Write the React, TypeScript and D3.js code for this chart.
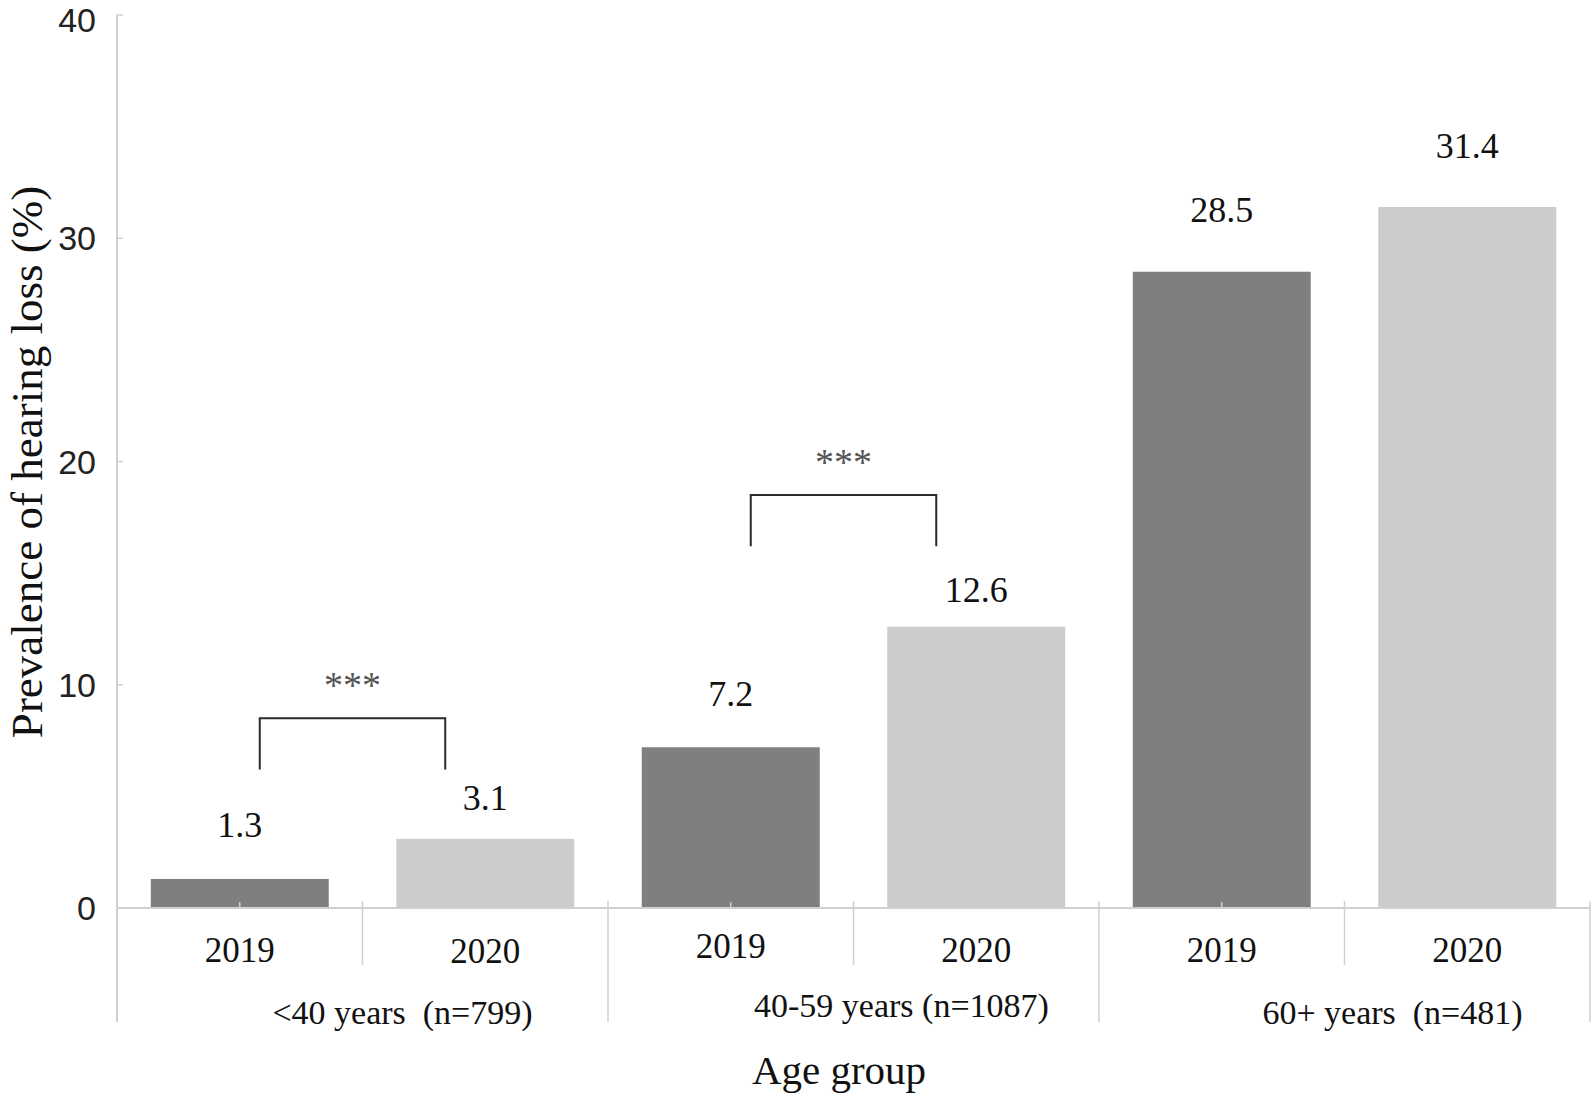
import React from "react";
import * as d3 from "d3";

const groups = ["<40 years  (n=799)", "40-59 years (n=1087)", "60+ years  (n=481)"];
const years = ["2019", "2020"];
const values2019 = [1.3, 7.2, 28.5];
const values2020 = [3.1, 12.6, 31.4];
const yTicks = [0, 10, 20, 30, 40];
// significance brackets: group index, top value, leg bottom value
const sigGroups = [0, 1];
const sigTop = [8.5, 18.5];
const sigBottom = [6.2, 16.2];

// label layout tweaks (pixels)
const labelGap = [42, 29, 41, 25, 50, 49];
const groupLabelShift = [40, 48, 48];
const groupLabelDy = [0, -7, 0];
const yearLabelDy = [0, 1, -4, 0, 0, 0];

const W = 1593;
const H = 1096;
const left = 117;
const right = 1590;
const y0 = 908;
const yTop = 15;

export default function App() {
  const cats: { key: string; group: number; year: number; value: number }[] = [];
  groups.forEach((g, gi) => {
    years.forEach((yr, yi) => {
      cats.push({ key: `${gi}-${yi}`, group: gi, year: yi, value: yi === 0 ? values2019[gi] : values2020[gi] });
    });
  });

  const x = d3
    .scaleBand<string>()
    .domain(cats.map((c) => c.key))
    .range([left, right])
    .paddingInner(0.275)
    .paddingOuter(0.1375);
  const step = x.step();
  const slotStart = (k: string) => (x(k) as number) - step * 0.1375;
  const center = (k: string) => (x(k) as number) + x.bandwidth() / 2;

  const gx = d3.scaleBand<number>().domain(groups.map((_, i) => i)).range([left, right]);

  const y = d3.scaleLinear().domain([0, 40]).range([y0, yTop]);

  const axisColor = "#d0d0d0";
  const serif = "'Liberation Serif', 'Times New Roman', serif";

  return (
    <svg width={W} height={H} style={{ position: "absolute", left: 0, top: 0, background: "#fff" }}>
      {/* bars */}
      {cats.map((c) => (
        <rect
          key={c.key}
          x={x(c.key)}
          y={y(c.value)}
          width={x.bandwidth()}
          height={y0 - y(c.value)}
          fill={c.year === 0 ? "#7f7f7f" : "#cccccc"}
        />
      ))}
      {/* small ticks at category centers */}
      {cats.map((c) => (
        <line key={"ct" + c.key} x1={center(c.key)} x2={center(c.key)} y1={y0} y2={y0 - 6} stroke={axisColor} strokeWidth={1.5} />
      ))}
      {/* y axis */}
      <line x1={left} x2={left} y1={y(40)} y2={1022} stroke={axisColor} strokeWidth={2} />
      {yTicks.map((t) => (
        <g key={"yt" + t}>
          <line x1={left} x2={left + 6} y1={y(t)} y2={y(t)} stroke={axisColor} strokeWidth={1.5} />
          <text
            x={96}
            y={Math.max(y(t), 20)}
            textAnchor="end"
            dominantBaseline="central"
            fontFamily="'Liberation Sans', Arial, sans-serif"
            fontSize={34}
            fill="#222"
          >
            {t}
          </text>
        </g>
      ))}
      {/* x axis */}
      <line x1={left} x2={right} y1={y0} y2={y0} stroke={axisColor} strokeWidth={2} />
      {groups.map((g, gi) => (
        <line
          key={"gs" + gi}
          x1={(gx(gi) as number) + gx.bandwidth()}
          x2={(gx(gi) as number) + gx.bandwidth()}
          y1={y0 - 7}
          y2={1022}
          stroke={axisColor}
          strokeWidth={1.5}
        />
      ))}
      {groups.map((g, gi) => {
        const k = `${gi}-1`;
        const sx = slotStart(k);
        return <line key={"ys" + gi} x1={sx} x2={sx} y1={y0 - 7} y2={965} stroke={axisColor} strokeWidth={1.5} />;
      })}
      {/* year labels */}
      {cats.map((c, i) => (
        <text key={"yl" + c.key} x={center(c.key)} y={962 + yearLabelDy[i]} textAnchor="middle" fontFamily={serif} fontSize={35} fill="#111">
          {years[c.year]}
        </text>
      ))}
      {/* group labels */}
      {groups.map((g, gi) => (
        <text
          key={"gl" + gi}
          x={(gx(gi) as number) + gx.bandwidth() / 2 + groupLabelShift[gi]}
          y={1024 + groupLabelDy[gi]}
          textAnchor="middle"
          fontFamily={serif}
          fontSize={34}
          fill="#111"
          style={{ whiteSpace: "pre" }}
        >
          {g}
        </text>
      ))}
      {/* value labels */}
      {cats.map((c, i) => (
        <text
          key={"vl" + c.key}
          x={center(c.key)}
          y={y(c.value) - labelGap[i]}
          textAnchor="middle"
          fontFamily={serif}
          fontSize={36}
          fill="#111"
        >
          {c.value.toFixed(1)}
        </text>
      ))}
      {/* significance brackets */}
      {sigGroups.map((gi, i) => {
        const x1 = center(`${gi}-0`) + 20;
        const x2 = center(`${gi}-1`) - 40;
        const top = y(sigTop[i]);
        const bot = y(sigBottom[i]);
        const path = d3.path();
        path.moveTo(x1, bot);
        path.lineTo(x1, top);
        path.lineTo(x2, top);
        path.lineTo(x2, bot);
        return (
          <g key={"sig" + i}>
            <path d={path.toString()} fill="none" stroke="#2a2a2a" strokeWidth={2} />
            <text x={(x1 + x2) / 2} y={top - 20} textAnchor="middle" fontFamily={serif} fontSize={38} fill="#555">
              ***
            </text>
          </g>
        );
      })}
      {/* axis titles */}
      <text
        transform={`translate(42,462) rotate(-90)`}
        textAnchor="middle"
        fontFamily={serif}
        fontSize={45}
        fill="#111"
      >
        Prevalence of hearing loss (%)
      </text>
      <text x={839} y={1084} textAnchor="middle" fontFamily={serif} fontSize={41} fill="#111">
        Age group
      </text>
    </svg>
  );
}
